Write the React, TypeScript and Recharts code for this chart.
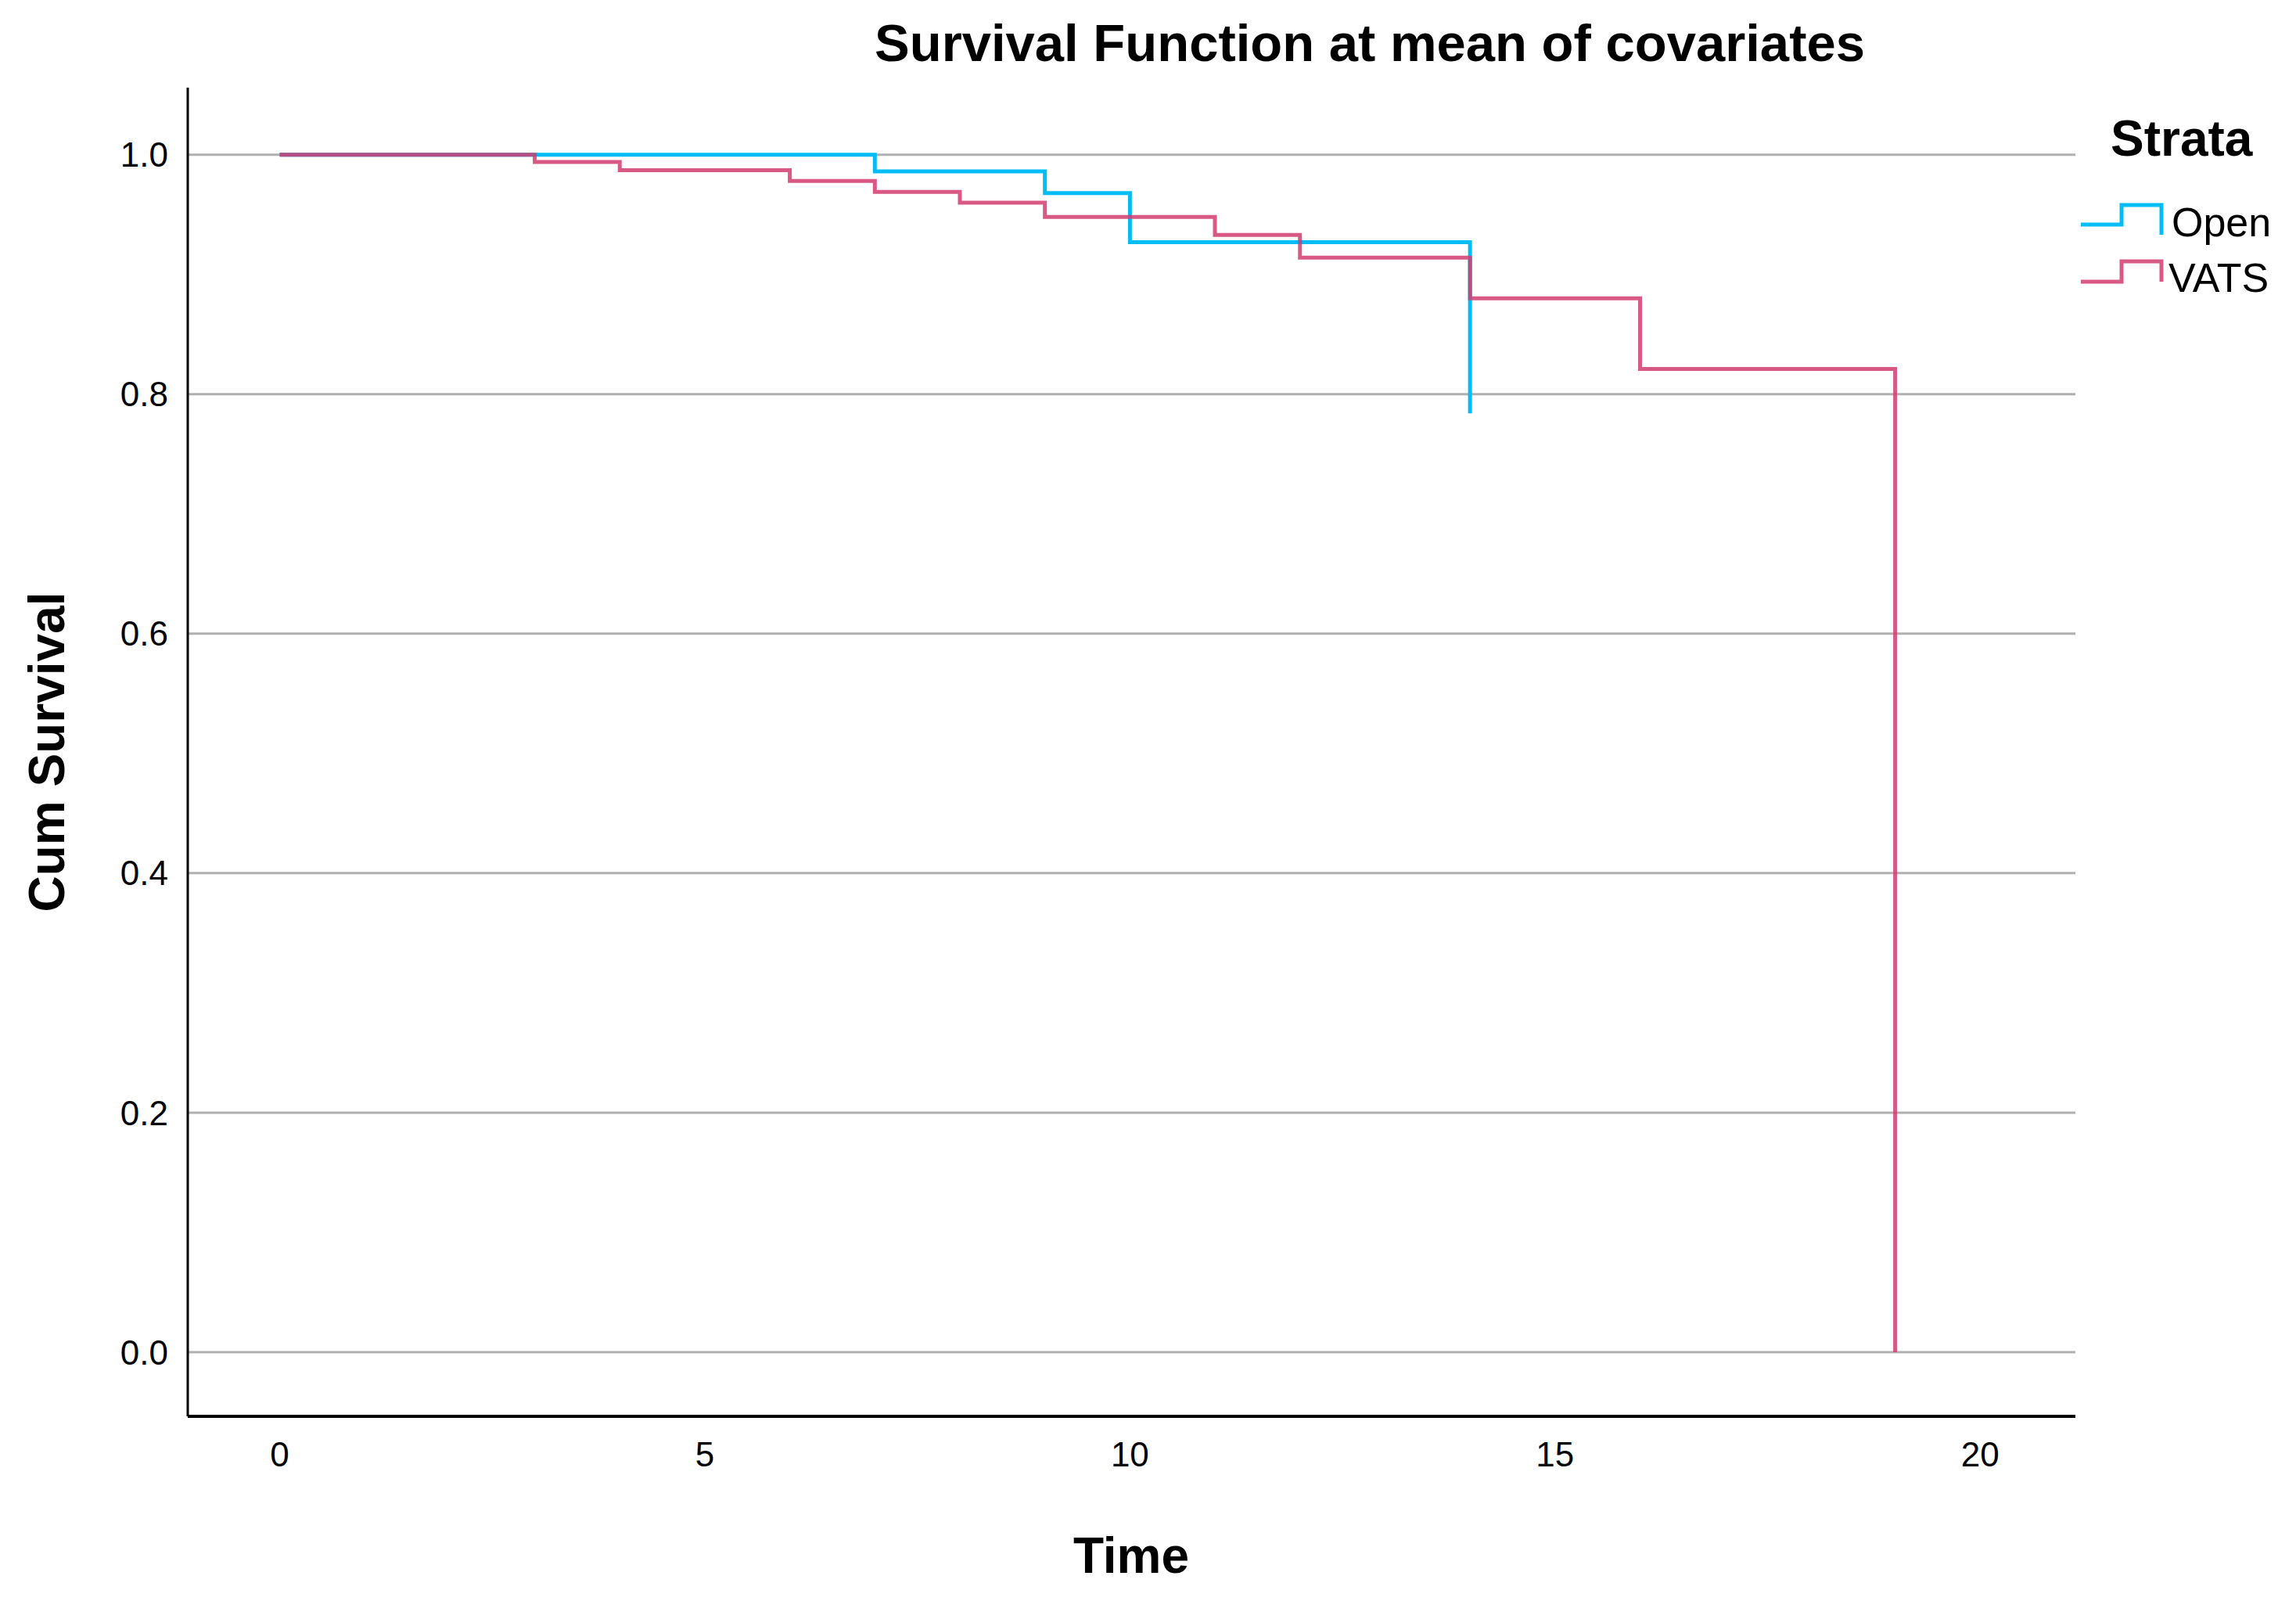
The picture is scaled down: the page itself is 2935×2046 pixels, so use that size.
import React from 'react';
import { LineChart, Line, XAxis, YAxis, CartesianGrid, Legend } from 'recharts';

const openTimes = [0, 7, 9, 10, 14];
const openSurvival = [1.0, 0.986, 0.968, 0.927, 0.784];
const vatsTimes = [0, 3, 4, 6, 7, 8, 9, 11, 12, 14, 16, 19];
const vatsSurvival = [1.0, 0.994, 0.987, 0.978, 0.969, 0.96, 0.948, 0.933, 0.914, 0.88, 0.821, 0];
const xTicks = [0, 5, 10, 15, 20];
const yTicks = [0, 0.2, 0.4, 0.6, 0.8, 1.0];
const seriesNames = ['Open', 'VATS'];
const seriesColors = ['#00BDF5', '#D23C70'];

const openData = openTimes.map((t, i) => ({ t, s: openSurvival[i] }));
const vatsData = vatsTimes.map((t, i) => ({ t, s: vatsSurvival[i] }));

const FONT = '"Liberation Sans", Arial, Helvetica, sans-serif';

const renderLegend = () => (
  <svg width={285} height={260} style={{ overflow: 'visible', display: 'block' }}>
    <text x={48} y={69} fontFamily={FONT} fontWeight="bold" fontSize={64} fill="#000">Strata</text>
    <path d="M10,157 H62 V132 H113 V170" fill="none" stroke={seriesColors[0]} strokeWidth={5} />
    <text x={126} y={172} fontFamily={FONT} fontSize={52} fill="#000">{seriesNames[0]}</text>
    <path d="M10,230 H62 V204 H113 V230" fill="none" stroke={seriesColors[1]} strokeOpacity={0.85} strokeWidth={5} />
    <text x={122} y={243} fontFamily={FONT} fontSize={52} fill="#000">{seriesNames[1]}</text>
  </svg>
);

export default function App() {
  return (
    <div style={{ position: 'absolute', left: 0, top: 0, width: 2935, height: 2046, background: '#fff', fontFamily: FONT }}>
      <div
        style={{
          position: 'absolute',
          left: 1051,
          top: 22,
          width: 1400,
          textAlign: 'center',
          fontWeight: 'bold',
          fontSize: 67,
          lineHeight: '66px',
          color: '#000',
          fontFamily: FONT,
        }}
      >
        Survival Function at mean of covariates
      </div>
      <LineChart
        width={2935}
        height={2046}
        margin={{ top: 112, right: 282, bottom: 0, left: 0 }}
        style={{ position: 'absolute', left: 0, top: 0 }}
      >
        <CartesianGrid horizontal vertical={false} horizontalValues={yTicks} stroke="#b0b0b0" strokeWidth={3} />
        <XAxis
          type="number"
          dataKey="t"
          domain={[-1.081, 21.12]}
          ticks={xTicks}
          allowDataOverflow
          height={236}
          tickLine={false}
          tickSize={0}
          tickMargin={33}
          axisLine={{ stroke: '#000', strokeWidth: 4 }}
          tick={{ fontSize: 44, fill: '#000', fontFamily: FONT }}
          label={{
            content: () => (
              <text x={1446} y={2010} textAnchor="middle" fontFamily={FONT} fontWeight="bold" fontSize={64} fill="#000">
                Time
              </text>
            ),
          }}
        />
        <YAxis
          type="number"
          domain={[-0.0536, 1.056]}
          ticks={yTicks}
          allowDataOverflow
          width={240}
          tickLine={false}
          tickSize={0}
          tickMargin={25}
          tickFormatter={(v: number) => v.toFixed(1)}
          axisLine={{ stroke: '#000', strokeWidth: 3 }}
          tick={{ fontSize: 44, fill: '#000', fontFamily: FONT }}
          label={{
            content: () => (
              <text
                x={0}
                y={0}
                transform="translate(82,961) rotate(-90)"
                textAnchor="middle"
                fontFamily={FONT}
                fontWeight="bold"
                fontSize={64}
                fill="#000"
              >
                Cum Survival
              </text>
            ),
          }}
        />
        <Legend
          content={renderLegend}
          wrapperStyle={{ position: 'absolute', left: 2650, top: 130, width: 285, height: 0, overflow: 'visible' }}
        />
        <Line
          data={openData}
          dataKey="s"
          name={seriesNames[0]}
          type="stepAfter"
          stroke={seriesColors[0]}
          strokeWidth={5}
          dot={false}
          activeDot={false}
          isAnimationActive={false}
        />
        <Line
          data={vatsData}
          dataKey="s"
          name={seriesNames[1]}
          type="stepAfter"
          stroke={seriesColors[1]}
          strokeOpacity={0.85}
          strokeWidth={5}
          dot={false}
          activeDot={false}
          isAnimationActive={false}
        />
      </LineChart>
    </div>
  );
}
